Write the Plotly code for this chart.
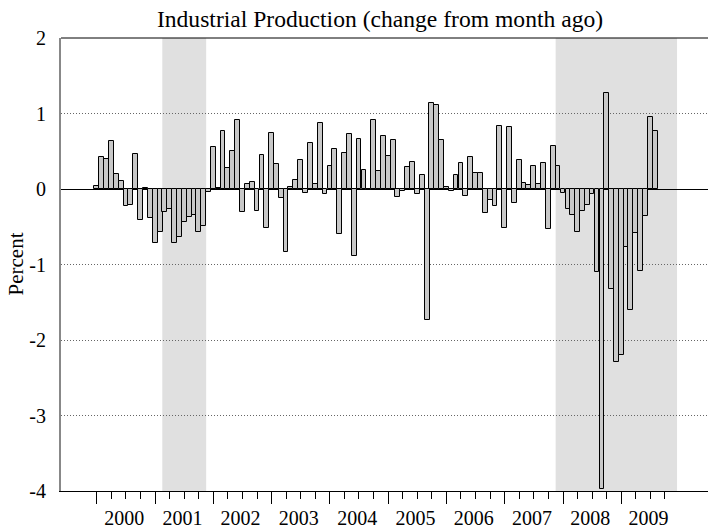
import pandas as pd
import plotly.graph_objects as go

# Monthly percent change in industrial production, Jan 2000 - Aug 2009
ip_change = [
    0.035, 0.43, 0.40, 0.63, 0.20, 0.11, -0.23, -0.21, 0.47, -0.41, 0.01, -0.39,   # 2000
    -0.72, -0.57, -0.30, -0.26, -0.72, -0.64, -0.44, -0.37, -0.34, -0.57, -0.49, -0.04,  # 2001
    0.55, 0.01, 0.77, 0.28, 0.50, 0.91, -0.30, 0.07, 0.09, -0.29, 0.45, -0.52,     # 2002
    0.74, 0.33, -0.12, -0.83, 0.02, 0.12, 0.38, -0.05, 0.61, 0.07, 0.87, -0.07,    # 2003
    0.30, 0.53, -0.59, 0.48, 0.73, -0.89, 0.66, 0.25, -0.01, 0.91, 0.24, 0.70,     # 2004
    0.44, 0.65, -0.11, -0.03, 0.29, 0.36, -0.06, 0.19, -1.73, 1.14, 1.11, 0.65,    # 2005
    0.03, -0.02, 0.18, 0.35, -0.09, 0.42, 0.21, 0.21, -0.32, -0.15, -0.22, 0.84,   # 2006
    -0.51, 0.82, -0.19, 0.38, 0.08, 0.05, 0.31, 0.07, 0.35, -0.53, 0.57, 0.31,     # 2007
    -0.05, -0.26, -0.35, -0.57, -0.29, -0.21, -0.06, -1.10, -3.97, 1.27, -1.32, -2.29,  # 2008
    -2.20, -0.77, -1.60, -0.58, -1.08, -0.36, 0.95, 0.77,                          # 2009
]
months = pd.date_range("2000-01-01", periods=len(ip_change), freq="MS")

years = list(range(2000, 2010))
year_labels = [str(y) for y in years]

# Recession periods (first and last month covered)
recession_start = ["2001-03", "2007-12"]
recession_end = ["2001-11", "2009-12"]

y_ticks = [2, 1, 0, -1, -2, -3, -4]
y_labels = ["2", "1", "0", "-1", "-2", "-3", "-4"]

FONT = "Liberation Serif"
HALF_MONTH = pd.Timedelta(days=15)
x_range = ["1999-05-21", "2010-06-28"]

fig = go.Figure()
fig.add_trace(go.Bar(
    x=months, y=ip_change,
    width=30.2 * 86400000,
    marker=dict(color="#c8c8c8", line=dict(color="black", width=1)),
    showlegend=False,
))
# invisible trace to carry the year-label axis
fig.add_trace(go.Scatter(x=[months[0]], y=[0], xaxis="x2", mode="markers",
                         marker=dict(opacity=0), showlegend=False, hoverinfo="skip"))

for s, e in zip(recession_start, recession_end):
    fig.add_shape(type="rect", xref="x", yref="paper",
                  x0=pd.Timestamp(s + "-01") - HALF_MONTH,
                  x1=pd.Timestamp(e + "-01") + HALF_MONTH,
                  y0=0, y1=1, fillcolor="#e0e0e0", line=dict(width=0), layer="below")

# top frame line
fig.add_shape(type="line", xref="paper", yref="paper", x0=0, x1=1, y0=1, y1=1,
              line=dict(color="black", width=1))

major_ticks = [pd.Timestamp(f"{y}-01-01") for y in years]
minor_ticks = [pd.Timestamp(f"{y}-{m:02d}-01") for y in years for m in (4, 7, 10)]
label_pos = [pd.Timestamp(f"{y}-06-20") for y in years]

fig.update_layout(
    width=708, height=529,
    margin=dict(l=61, r=0, t=38, b=38),
    paper_bgcolor="white", plot_bgcolor="white",
    font=dict(family=FONT, color="black", size=20),
    bargap=0,
    title=dict(text="Industrial Production (change from month ago)",
               x=380 / 708, xanchor="center", y=(529 - 19) / 529, yanchor="middle",
               font=dict(family=FONT, size=23.6, color="black")),
    xaxis=dict(
        type="date", range=x_range, showgrid=False, zeroline=False,
        showline=True, linecolor="black", linewidth=1,
        tickmode="array", tickvals=major_ticks, ticktext=[""] * len(major_ticks),
        ticks="outside", ticklen=12, tickwidth=1, tickcolor="black",
        minor=dict(tickmode="array", tickvals=minor_ticks, ticks="outside",
                   ticklen=7, tickwidth=1, tickcolor="black", showgrid=False),
    ),
    xaxis2=dict(
        type="date", range=x_range, overlaying="x", anchor="y", side="bottom",
        showgrid=False, zeroline=False, showline=False,
        tickmode="array", tickvals=label_pos, ticktext=year_labels,
        ticks="outside", ticklen=9, tickcolor="rgba(0,0,0,0)",
        tickfont=dict(family=FONT, size=20, color="black"),
    ),
    yaxis=dict(
        range=[-4, 2], tickmode="array", tickvals=y_ticks, ticktext=y_labels,
        showgrid=True, gridcolor="#666666", gridwidth=1, griddash="1px,2px",
        zeroline=True, zerolinecolor="black", zerolinewidth=1,
        showline=True, linecolor="#888888", linewidth=2,
        ticks="", ticklabelstandoff=9,
        tickfont=dict(family=FONT, size=20, color="black"),
    ),
    annotations=[dict(text="Percent", xref="paper", yref="paper",
                      x=-46 / 647, y=0.5, xanchor="center", yanchor="middle",
                      textangle=-90, showarrow=False,
                      font=dict(family=FONT, size=21, color="black"))],
)

fig.write_html("out.html")
